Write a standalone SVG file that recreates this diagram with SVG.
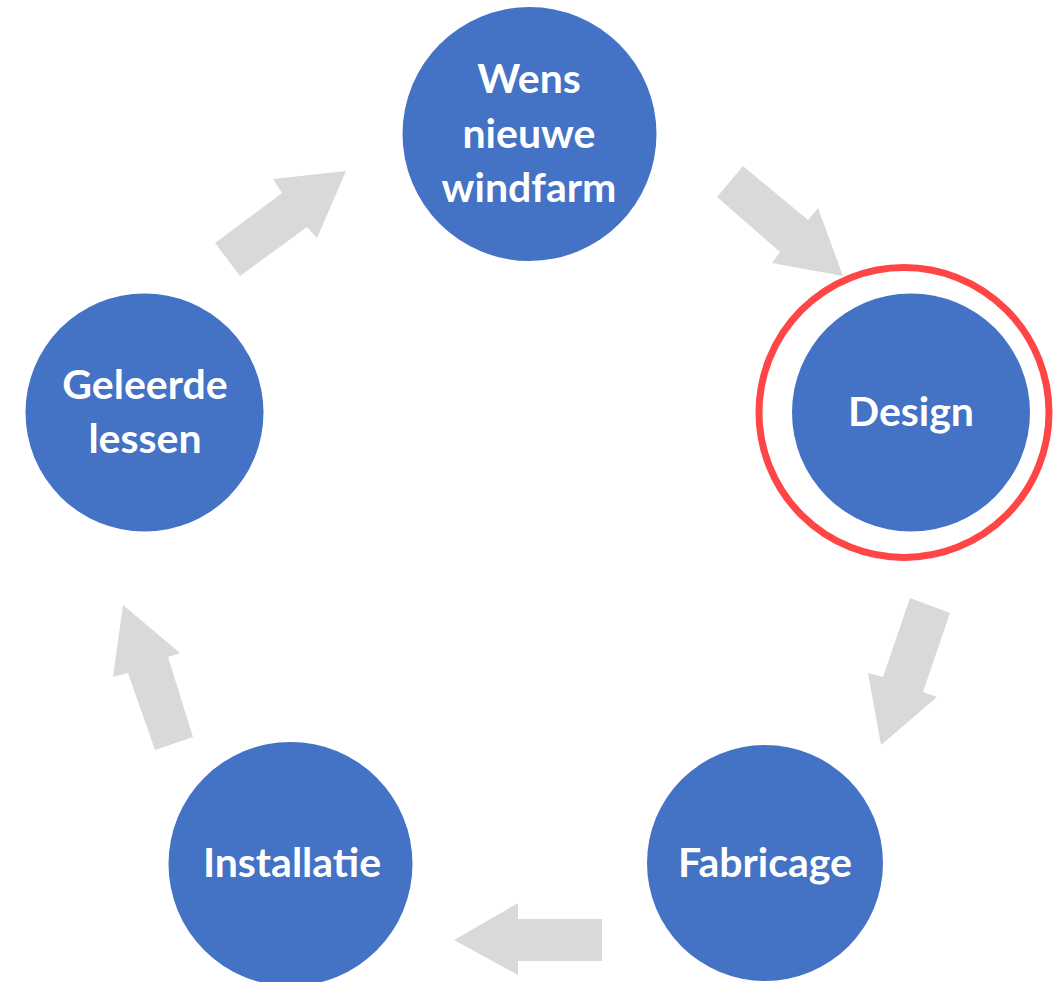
<svg xmlns="http://www.w3.org/2000/svg" width="1053" height="982" viewBox="0 0 1053 982">
<style>
.node{fill:#4472C4}
.lbl{fill:#ffffff;font-family:Lato,"Open Sans","Liberation Sans",sans-serif;font-weight:bold;font-size:41px;text-anchor:middle}
.arrow{fill:#D9D9D9}
</style>
<rect width="1053" height="982" fill="#ffffff"/>
<g id="connectors">
<polygon class="arrow" points="743,166 808,220 818,208 843,276 772,263 780,252 717,197"/>
<polygon class="arrow" points="215,243 240,276 307,227 317,238 346,171 273,179 282,193"/>
<polygon class="arrow" points="910,598 950,613 923,692 937,697 881,745 868,673 883,677"/>
<polygon class="arrow" points="602,919 602,961 518,961 518,975 454,940 518,903 518,919"/>
<polygon class="arrow" points="123,605 180,653 168,657 193,737 155,750 128,673 113,677"/>
</g>
<g id="node-wens">
<circle class="node" cx="529.5" cy="134" r="127"/>
<text class="lbl" x="529" y="93">Wens</text>
<text class="lbl" x="529" y="148">nieuwe</text>
<text class="lbl" x="529" y="202">windfarm</text>
</g>
<g id="node-design">
<circle class="node" cx="911" cy="412.5" r="119"/>
<text class="lbl" x="911" y="426">Design</text>
<circle cx="904" cy="412.5" r="145" fill="none" stroke="#FF4545" stroke-width="7"/>
</g>
<g id="node-fabricage">
<circle class="node" cx="765" cy="863" r="118"/>
<text class="lbl" x="765" y="877">Fabricage</text>
</g>
<g id="node-installatie">
<circle class="node" cx="290.5" cy="864" r="122"/>
<text class="lbl" x="292" y="877">Installatie</text>
</g>
<g id="node-geleerde">
<circle class="node" cx="144.5" cy="412.5" r="119"/>
<text class="lbl" x="145" y="399">Geleerde</text>
<text class="lbl" x="145" y="453">lessen</text>
</g>
</svg>
